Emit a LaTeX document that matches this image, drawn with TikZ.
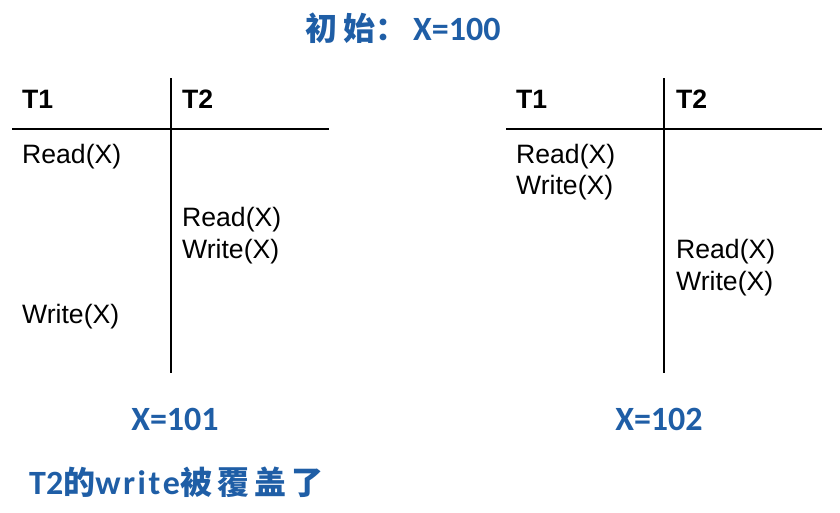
\documentclass[tikz,border=0pt]{standalone}
\usepackage{fontspec}
\setmainfont{Liberation Sans}
\newfontfamily\calfont{Carlito}
\newfontfamily\cjkfont{Noto Sans CJK SC}
\definecolor{titleblue}{RGB}{31,94,166}
\newcommand{\cjk}[1]{{\cjkfont\bfseries\fontsize{32}{36}\selectfont #1}}
\tikzset{
  cell/.style={anchor=base west, inner sep=0pt, font=\fontsize{26.6}{30}\selectfont},
  head/.style={cell, font=\fontsize{26.6}{30}\selectfont\bfseries},
  rule/.style={line width=1.2pt, black},
  result/.style={anchor=base, inner sep=0pt, text=titleblue, font=\fontsize{34}{40}\selectfont\calfont\bfseries},
}
\begin{document}
\begin{tikzpicture}[x=1pt,y=-1pt]
\useasboundingbox (0,0) rectangle (840,512);
% title
\node[result, anchor=base west] (title) at (305,40) {\cjk{初}\hspace{6pt}\cjk{始}\cjk{：}\hspace{6pt}X=100};
% left table
\coordinate (lv1) at (171,78);
\coordinate (lv2) at (171,373);
\coordinate (lh1) at (12,129);
\coordinate (lh2) at (329,129);
\draw[rule] (lv1) -- (lv2);
\draw[rule] (lh1) -- (lh2);
\node[head] (lt1) at (22,108) {T1};
\node[head] (lt2) at (182,108) {T2};
\node[cell] (lr1) at (22,163) {Read(X)};
\node[cell] (lr2) at (182,226) {Read(X)};
\node[cell] (lw2) at (182,258) {Write(X)};
\node[cell] (lw1) at (22,323) {Write(X)};
% right table
\coordinate (rv1) at (664,78);
\coordinate (rv2) at (664,373);
\coordinate (rh1) at (506,129);
\coordinate (rh2) at (822,129);
\draw[rule] (rv1) -- (rv2);
\draw[rule] (rh1) -- (rh2);
\node[head] (rt1) at (516,108) {T1};
\node[head] (rt2) at (676,108) {T2};
\node[cell] (rr1) at (516,163) {Read(X)};
\node[cell] (rw1) at (516,194) {Write(X)};
\node[cell] (rr2) at (676,258) {Read(X)};
\node[cell] (rw2) at (676,290) {Write(X)};
% results
\node[result] (res1) at (175,430) {X=101};
\node[result] (res2) at (659,430) {X=102};
\node[result, anchor=base west] (note) at (29,494) {T2\cjk{的}w\kern2.5pt r\kern2.5pt i\kern2.5pt t\kern2.5pt e\kern1pt\cjk{被}\hspace{5pt}\cjk{覆}\hspace{5pt}\cjk{盖}\hspace{5pt}\cjk{了}};
\end{tikzpicture}
\end{document}
